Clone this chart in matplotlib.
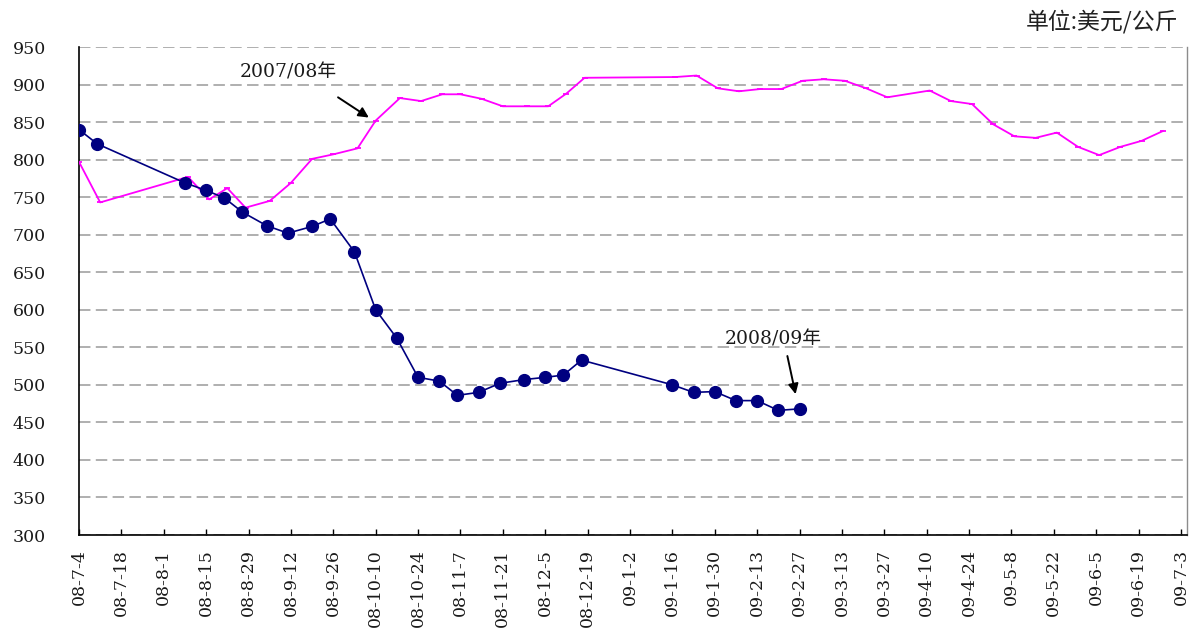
import matplotlib
matplotlib.use("Agg")
import matplotlib.pyplot as plt
import pandas as pd

# ---- data ----
dates_0809 = ["2008-07-04", "2008-07-10", "2008-08-08", "2008-08-15", "2008-08-21",
              "2008-08-27", "2008-09-04", "2008-09-11", "2008-09-19", "2008-09-25",
              "2008-10-03", "2008-10-10", "2008-10-17", "2008-10-24", "2008-10-31",
              "2008-11-06", "2008-11-13", "2008-11-20", "2008-11-28", "2008-12-05",
              "2008-12-11", "2008-12-17", "2009-01-16", "2009-01-23", "2009-01-30",
              "2009-02-06", "2009-02-13", "2009-02-20", "2009-02-27"]
values_0809 = [840, 821, 769, 759, 749, 730, 712, 702, 711, 721,
               677, 600, 562, 510, 505, 486, 490, 502, 507, 510,
               513, 533, 500, 490, 491, 479, 479, 466, 468]

# 2007/08 season plotted on the same calendar axis
dates_0708 = ["2008-07-04", "2008-07-11", "2008-08-09", "2008-08-16", "2008-08-22",
              "2008-08-28", "2008-09-05", "2008-09-12", "2008-09-19", "2008-09-26",
              "2008-10-04", "2008-10-10", "2008-10-18", "2008-10-25", "2008-11-01",
              "2008-11-07", "2008-11-14", "2008-11-21", "2008-11-29", "2008-12-06",
              "2008-12-12", "2008-12-18", "2009-01-17", "2009-01-24", "2009-01-31",
              "2009-02-07", "2009-02-14", "2009-02-21", "2009-02-28", "2009-03-07",
              "2009-03-14", "2009-03-21", "2009-03-28", "2009-04-11", "2009-04-18",
              "2009-04-25", "2009-05-02", "2009-05-09", "2009-05-16", "2009-05-23",
              "2009-05-30", "2009-06-06", "2009-06-13", "2009-06-20", "2009-06-27"]
values_0708 = [797, 743, 777, 747, 762, 736, 745, 769, 801, 807,
               815, 852, 882, 878, 887, 887, 881, 871, 871, 871,
               888, 909, 910, 912, 895, 891, 894, 894, 905, 907,
               905, 895, 883, 892, 878, 874, 847, 831, 829, 836,
               817, 806, 817, 825, 838]

tick_dates = ["2008-07-04", "2008-07-18", "2008-08-01", "2008-08-15", "2008-08-29",
              "2008-09-12", "2008-09-26", "2008-10-10", "2008-10-24", "2008-11-07",
              "2008-11-21", "2008-12-05", "2008-12-19", "2009-01-02", "2009-01-16",
              "2009-01-30", "2009-02-13", "2009-02-27", "2009-03-13", "2009-03-27",
              "2009-04-10", "2009-04-24", "2009-05-08", "2009-05-22", "2009-06-05",
              "2009-06-19", "2009-07-03"]
tick_labels = ["08-7-4", "08-7-18", "08-8-1", "08-8-15", "08-8-29", "08-9-12",
               "08-9-26", "08-10-10", "08-10-24", "08-11-7", "08-11-21", "08-12-5",
               "08-12-19", "09-1-2", "09-1-16", "09-1-30", "09-2-13", "09-2-27",
               "09-3-13", "09-3-27", "09-4-10", "09-4-24", "09-5-8", "09-5-22",
               "09-6-5", "09-6-19", "09-7-3"]
y_ticks = list(range(300, 951, 50))

label_0708 = "2007/08年"
label_0809 = "2008/09年"
unit_label = "单位:美元/公斤"

# ---- plot ----
FAM = ["DejaVu Serif", "Noto Sans CJK SC", "DejaVu Sans"]
plt.rcParams["font.family"] = FAM

fig = plt.figure(figsize=(11.89, 6.35), dpi=100)
ax = fig.add_axes([79 / 1189, 1 - 535 / 635, 1108 / 1189, 488 / 635])

d0809 = pd.to_datetime(dates_0809)
d0708 = pd.to_datetime(dates_0708)
t0 = pd.Timestamp("2008-07-04")

ax.plot(d0708, values_0708, color="#FF00FF", lw=1.3, marker="_", ms=5, mew=1.3, zorder=3)
ax.plot(d0809, values_0809, color="#000080", lw=1.2, marker="o", ms=8.5,
        mfc="#000080", mec="#000080", zorder=4)

ax.set_ylim(300, 950)
ax.set_yticks(y_ticks)
ax.set_xlim(t0, pd.Timestamp("2009-07-05"))
ax.set_xticks(pd.to_datetime(tick_dates))
ax.set_xticklabels(tick_labels, rotation=90, va="top", ha="center")

ax.yaxis.grid(True, color="#9a9a9a", linestyle=(0, (7.5, 3.5)), lw=1.1)
ax.set_axisbelow(True)

ax.tick_params(axis="y", length=0, pad=24, labelsize=12.5, labelcolor="#1a1a1a")
ax.tick_params(axis="x", direction="in", length=4, pad=10, labelsize=12.5, width=1,
               labelcolor="#1a1a1a")

for s in ["left", "bottom"]:
    ax.spines[s].set_color("black")
    ax.spines[s].set_linewidth(1.2)
ax.spines["top"].set_visible(False)
ax.spines["right"].set_color("#8c8c8c")
ax.spines["right"].set_linewidth(1.0)

# annotations
ax.text(t0 + pd.Timedelta(days=53.1), 916, label_0708,
        fontsize=13.5, va="center", ha="left", family=FAM, color="#1a1a1a")
ax.annotate("", xy=(t0 + pd.Timedelta(days=96.5), 854),
            xytext=(t0 + pd.Timedelta(days=84.8), 885),
            arrowprops=dict(arrowstyle="-|>", color="black", lw=1.4, mutation_scale=15))

ax.text(t0 + pd.Timedelta(days=213.2), 560, label_0809,
        fontsize=13.5, va="center", ha="left", family=FAM, color="#1a1a1a")
ax.annotate("", xy=(t0 + pd.Timedelta(days=236.9), 484),
            xytext=(t0 + pd.Timedelta(days=233.8), 542),
            arrowprops=dict(arrowstyle="-|>", color="black", lw=1.4, mutation_scale=15))

fig.text(1178 / 1189, 1 - 22 / 635, unit_label, ha="right", va="center",
         fontsize=16.5, family=["Noto Sans CJK SC", "DejaVu Sans"], color="#222222")

fig.savefig("out.png", dpi=100)
